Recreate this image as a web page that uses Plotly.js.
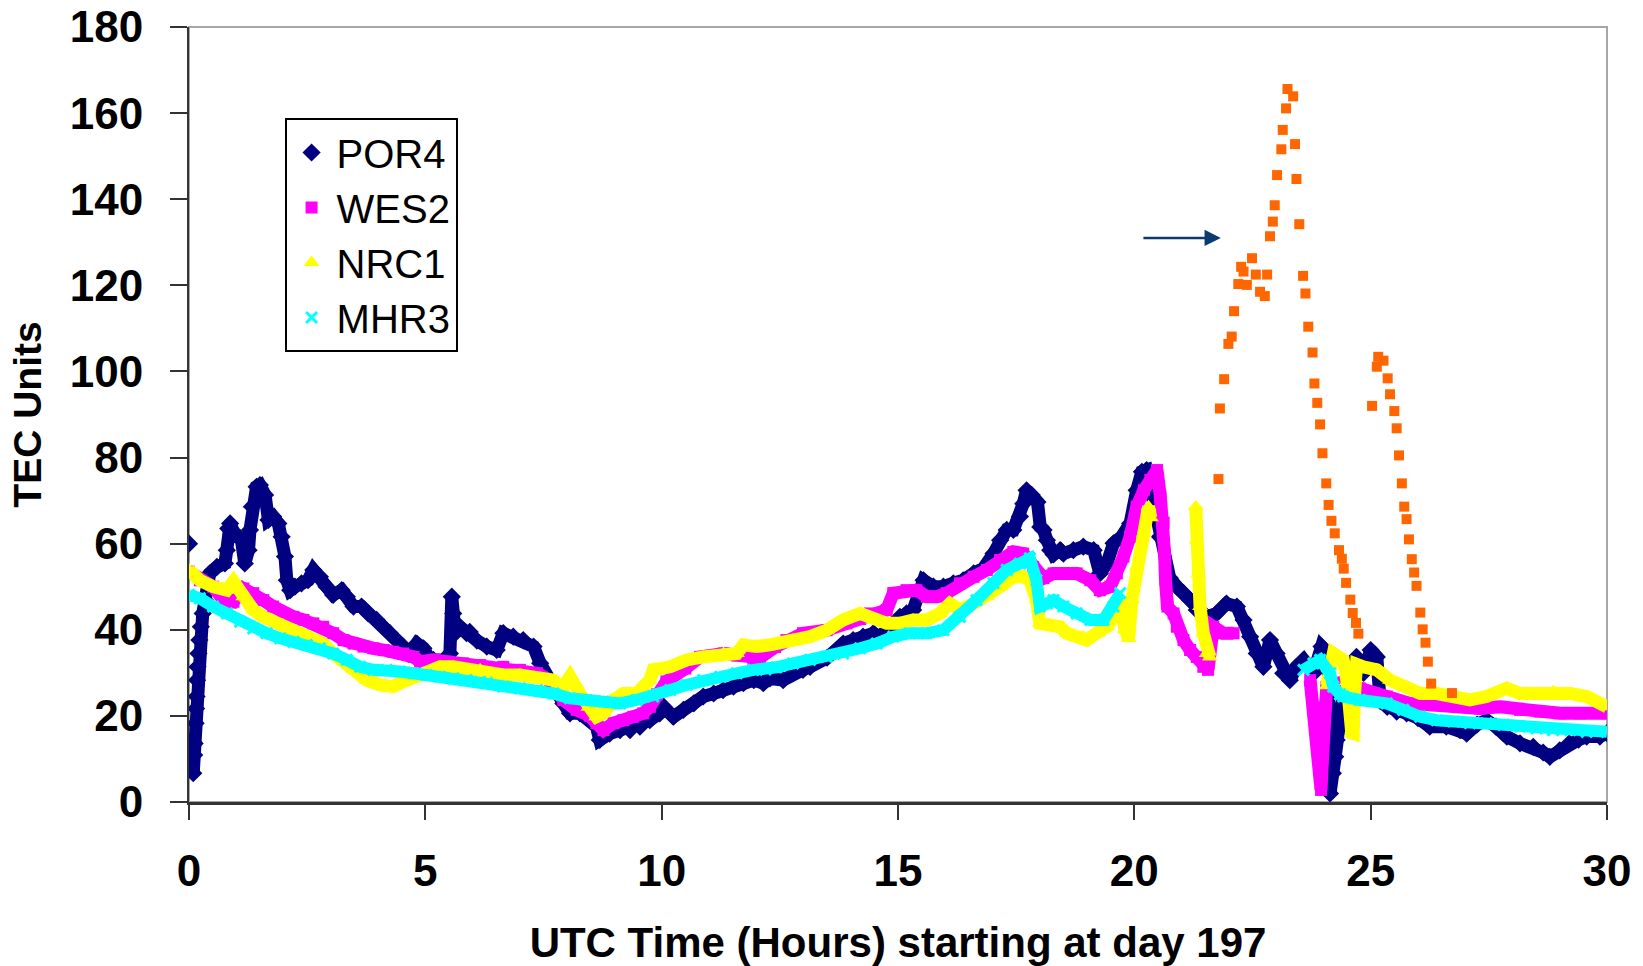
<!DOCTYPE html>
<html>
<head>
<meta charset="utf-8">
<script src="https://cdn.plot.ly/plotly-3.0.1.min.js"></script>
<style>html,body{margin:0;padding:0;background:#fff;}#chart{width:1643px;height:966px;}</style>
</head>
<body>
<div id="chart"></div>
<script>
// ---- Data (UTC hours from day 197, TEC units) ----
const por4X = [0, null, 0.09,0.11,0.12,0.14,0.15,0.16,0.17,0.18,0.20,0.22,0.25,0.29,0.34,0.44,0.59,0.76,0.80,0.83,0.87,0.94,1.04,1.11,1.18,1.26,1.29,1.33,1.43,1.50,1.61,1.68,1.78,1.89,1.96,2.03,2.07,2.14,2.24,2.38,2.52,2.63,2.77,2.91,3.05,3.23,3.34,3.48,3.65,3.79,3.97,4.11,4.25,4.39,4.53,4.68,4.82,4.96,5.06,5.17,5.45,5.52,5.56,5.59,5.63,5.73,5.87,5.94,6.09,6.30,6.51,6.65,6.86,7.07,7.29,7.43,7.57,7.71,7.92,8.06,8.27,8.62,8.69,8.90,9.12,9.33,9.54,9.75,9.96,10.04,10.25,10.46,10.68,10.88,11.10,11.30,11.52,11.73,11.95,12.15,12.29,12.57,12.78,12.99,13.14,13.50,13.84,14.05,14.26,14.48,14.62,14.85,15.04,15.18,15.32,15.45,15.54,15.75,15.96,16.17,16.38,16.60,16.81,17.02,17.16,17.30,17.44,17.58,17.65,17.72,17.83,17.95,18.01,18.08,18.15,18.22,18.29,18.43,18.50,18.71,18.92,19.14,19.27,19.42,19.56,19.73,19.91,20.05,20.16,20.26,20.35,20.54,20.75,20.90,21.04,21.18,21.32,21.53,21.74,21.95,22.17,22.31,22.45,22.59,22.73,22.87,23.01,23.15,23.29,23.43,23.58,23.79,23.96,24.10,24.14,24.20,24.25,24.28,24.32,24.36,24.42,24.60,24.70,24.85,25.00,25.13,25.20,25.35,25.55,25.76,26.00,26.25,26.60,26.89,27.03,27.25,27.45,27.65,27.88,28.16,28.44,28.65,28.79,29.00,29.20,29.40,29.57,29.85,30.00];
const por4Y = [60, null, 6.7,10.9,13.6,18.3,21.7,24.5,28.3,31.4,34.5,37.6,40.7,43.8,46.9,53.1,54.6,55.4,58.5,63.5,64.7,62.8,61.6,60.8,55.4,58.5,63.2,68.6,73.2,73.6,71.3,65.5,66.3,64.7,61.6,57.0,51.5,49.2,50.0,50.8,51.5,53.9,52.3,50.0,48.1,49.2,47.7,45.4,45.4,43.8,42.3,40.7,39.2,37.6,36.1,34.5,36.8,35.7,33.7,33.0,33.0,34.5,47.7,43.8,39.2,40.7,39.2,39.5,37.5,36.1,35.3,39.2,38.4,37.6,36.1,32.2,29.1,26.0,22.9,20.6,20.6,17.5,14.4,15.9,16.7,16.7,17.5,19.0,20.6,22.1,19.8,21.4,22.9,24.5,25.2,26.0,26.8,27.6,28.3,27.6,28.7,28.3,29.9,30.7,31.4,33.5,36.8,37.6,38.4,39.2,38.4,41.0,43.0,43.8,44.6,48.0,51.5,50.0,50.0,50.8,51.5,53.1,54.3,57.7,60.8,63.2,63.2,66.3,69.3,72.4,71.3,69.7,63.9,63.2,60.8,58.5,57.5,58.5,57.7,58.5,59.3,58.5,53.1,55.4,60.1,61.6,64.7,72.4,76.7,77.1,72.0,61.6,52.0,50.0,48.5,46.9,44.6,43.0,43.8,46.1,45.4,42.3,38.4,34.5,31.4,37.6,34.5,29.9,28.3,31.4,33.0,29.9,36.1,34.5,2.0,6.7,10.5,14.4,18.3,22.1,25.2,30.0,33.7,30.0,35.3,33.7,23.5,22.1,21.0,20.6,19.5,17.5,17.5,16.7,15.9,18.0,19.0,17.5,15.2,13.6,12.8,11.5,10.5,12.0,13.6,14.5,15.2,15.2,16.0];

const wes2X = [0,0.23,0.51,0.73,0.94,1.15,1.36,1.57,1.78,1.99,2.21,2.42,2.63,2.84,3.05,3.27,3.48,3.69,3.90,4.12,4.32,4.53,4.75,4.89,5.17,5.45,5.80,6.16,6.30,6.65,7.00,7.36,7.64,7.92,8.20,8.48,8.62,8.77,8.98,9.19,9.40,9.61,9.75,9.90,10.10,10.50,10.81,11.31,11.60,11.94,12.08,12.40,12.64,12.99,13.49,13.91,14.20,14.41,14.76,14.90,15.18,15.39,15.61,15.82,16.03,16.31,16.60,16.88,17.16,17.44,17.65,17.86,18.08,18.29,18.50,18.78,19.07,19.27,19.49,19.63,19.77,19.91,20.05,20.20,20.34,20.48,20.55,20.62,20.64,20.66,20.70,20.83,20.90,21.04,21.18,21.32,21.46,21.56,21.67,21.88,22.10,null,23.72,23.95,23.98,24.00,24.03,24.07,24.30,24.49,24.77,25.06,25.34,25.83,26.32,26.89,27.31,27.74,28.16,28.58,29.01,29.43,29.99];
const wes2Y = [53.5,51.5,50.0,46.9,46.5,49.6,48.5,46.9,45.4,43.8,43.0,42.3,41.5,40.7,39.2,37.6,36.8,36.1,35.7,35.3,34.9,34.5,33.7,32.6,33.0,32.6,32.2,31.8,31.4,31.4,30.7,29.9,28.3,23.7,21.4,20.0,18.3,16.7,18.3,19.0,19.8,20.6,22.1,25.0,28.0,31.0,33.7,34.5,34.0,33.0,33.5,36.0,37.6,39.2,39.9,41.5,42.5,43.8,44.6,48.5,49.2,49.2,47.7,47.7,48.5,50.8,52.3,53.9,56.2,58.1,57.7,54.6,52.0,53.1,53.1,53.1,51.5,49.2,50.0,53.1,57.0,61.6,68.6,72.4,74.8,77.1,71.0,64.9,57.7,51.5,45.4,43.8,40.7,37.6,35.3,33.7,31.4,30.7,40.7,39.2,39.2,null,28.3,2.8,10.0,16.0,22.0,26.8,27.5,28.3,26.4,25.2,24.5,22.9,22.5,22.1,21.7,22.1,21.4,21.0,20.6,20.6,20.6];

const nrc1X = [0,0.23,0.51,0.80,0.94,1.15,1.36,1.57,1.78,1.99,2.21,2.42,2.63,2.84,3.05,3.27,3.48,3.76,4.04,4.32,4.46,4.75,5.03,5.31,5.59,5.87,6.16,6.30,6.65,7.00,7.36,7.71,7.90,8.06,8.27,8.45,8.62,8.77,8.98,9.19,9.47,9.75,9.82,10.18,10.53,10.88,11.31,11.59,11.73,12.00,12.29,12.43,12.78,13.14,13.49,13.84,14.20,14.48,14.76,15.04,15.32,15.61,15.89,16.10,16.31,16.60,16.88,17.16,17.44,17.65,17.79,17.93,18.00,18.22,18.43,18.57,18.92,18.99,19.20,19.42,19.56,19.70,19.80,19.88,19.95,20.05,20.20,20.30,20.35,null,21.30,21.32,21.35,21.39,21.46,21.53,21.60,null,24.07,24.21,24.42,24.50,24.60,24.63,24.66,24.70,24.84,25.13,25.41,25.76,26.05,26.40,26.75,27.10,27.45,27.88,28.16,28.51,28.86,29.22,29.57,30.00];
const nrc1Y = [53.9,51.5,50.0,49.2,51.2,47.7,44.6,43.0,41.9,41.1,39.9,38.4,37.6,36.8,34.5,32.6,30.7,28.3,27.2,26.8,27.6,29.1,29.9,31.4,31.4,30.7,30.7,29.9,29.5,29.5,28.7,28.3,26.5,29.1,25.2,22.0,19.8,20.6,23.7,25.2,25.2,28.3,30.7,31.4,33.0,33.7,34.5,34.5,36.5,36.1,36.5,36.8,37.6,38.4,39.9,42.3,43.8,42.3,41.5,41.5,42.3,42.3,43.8,46.1,44.6,46.1,47.7,50.0,52.3,52.3,51.5,46.9,41.5,40.7,40.7,39.2,38.4,37.6,39.2,40.7,43.0,47.0,40.0,38.0,47.0,54.6,62.4,68.6,66.0,null,68.6,60.8,53.1,45.4,39.2,34.5,33.7,null,27.0,34.5,33.0,28.0,16.0,15.9,25.0,32.0,31.4,30.7,28.3,26.8,25.2,25.2,24.5,23.7,24.5,26.4,25.2,25.2,25.6,25.2,24.5,22.1];

const mhr3X = [0,0.23,0.51,0.80,1.08,1.36,1.64,1.93,2.21,2.49,2.77,3.05,3.34,3.62,3.90,4.18,4.46,4.75,5.03,5.31,5.59,5.87,6.16,6.30,6.65,7.00,7.36,7.71,8.06,8.41,8.77,9.12,9.47,9.82,10.18,10.53,10.88,11.24,11.59,11.94,12.20,12.43,12.78,13.14,13.49,13.84,14.20,14.55,14.90,15.25,15.61,15.96,16.31,16.66,17.02,17.30,17.58,17.79,17.93,18.00,18.15,18.29,18.50,18.78,19.07,19.35,19.56,19.70,null,23.58,23.79,23.93,24.14,24.21,24.35,24.42,24.77,25.34,25.69,26.05,26.40,26.75,27.10,27.45,27.81,28.16,28.51,28.86,29.22,29.57,30.00];
const mhr3Y = [48.1,47.3,45.4,43.8,41.9,40.3,39.2,38.0,37.2,36.5,35.7,34.5,33.0,31.4,30.7,30.7,30.3,29.9,29.5,29.1,28.7,28.3,27.9,27.6,26.8,26.4,26.0,25.2,24.1,23.7,23.3,22.9,23.7,24.5,26.0,27.2,28.3,29.1,29.9,30.7,30.8,31.3,32.2,33.0,33.7,34.5,35.7,36.8,38.4,39.2,39.2,39.9,43.0,46.9,50.8,53.9,55.4,56.6,51.5,45.4,46.1,46.9,45.4,43.8,42.3,42.3,45.4,48.5,null,30.7,32.2,33.0,29.9,26.8,25.0,24.5,23.7,22.9,21.4,19.8,19.0,18.7,18.3,18.3,17.9,17.5,17.1,16.7,16.7,16.3,16.3];

// unlabelled orange series (highlighted by the arrow)
const orangeX = [21.78,21.81,21.90,21.99,22.06,22.11,22.20,22.26,22.31,22.38,22.49,22.57,22.66,22.76,22.81,22.87,22.93,22.97,23.02,23.11,23.14,23.21,23.24,23.36,23.40,23.43,23.49,23.57,23.62,23.68,23.77,23.81,23.87,23.93,23.98,24.06,24.11,24.17,24.24,24.33,24.39,24.43,24.48,24.57,24.62,24.69,24.74,25.03,25.13,25.16,25.27,25.36,25.41,25.50,25.55,25.60,25.66,25.71,25.76,25.81,25.87,25.92,25.97,26.05,26.10,26.16,26.21,26.28,26.72];
const orangeY = [75.0,91.4,98.2,106.4,108.1,114.0,120.3,124.3,123.2,120.1,126.3,122.5,118.5,117.5,122.5,131.4,134.8,138.6,145.6,151.6,156.1,161.1,165.6,163.9,152.8,144.7,134.2,122.2,118.1,110.4,104.4,97.2,92.7,87.7,81.0,74.0,69.0,65.3,62.4,58.5,56.5,54.2,50.9,47.0,43.9,41.6,39.1,92.0,101.1,103.4,102.5,98.4,94.7,90.8,86.8,80.5,74.0,68.6,65.7,61.0,56.4,53.3,50.2,44.0,40.1,37.0,32.6,27.5,25.3];

const seriesNames = ['POR4','WES2','NRC1','MHR3'];
const seriesColors = ['#000080','#FF00FF','#FFFF00','#00FFFF'];
const arrowFromX = 20.16, arrowToX = 21.83, arrowY = 131;

// ---- Traces ----
const xs = [por4X, wes2X, nrc1X, mhr3X];
const ys = [por4Y, wes2Y, nrc1Y, mhr3Y];
const symbols = ['diamond','square','triangle-up','x-thin'];
const msizes = [14, 12, 14, 11];
const lwidths = [13, 13, 13, 12];
const traces = [];
for (let i = 0; i < 4; i++) {
  traces.push({
    x: xs[i], y: ys[i], type: 'scatter', mode: 'lines',
    line: {color: seriesColors[i], width: lwidths[i]},
    connectgaps: false, showlegend: false, hoverinfo: 'skip'
  });
  const mk = {symbol: symbols[i], size: msizes[i], color: seriesColors[i]};
  if (symbols[i] === 'x-thin') mk.line = {color: seriesColors[i], width: 3};
  traces.push({
    x: xs[i], y: ys[i], type: 'scatter', mode: 'markers', name: seriesNames[i],
    marker: mk
  });
}
traces.push({
  x: orangeX, y: orangeY, type: 'scatter', mode: 'markers', showlegend: false,
  marker: {symbol: 'square', size: 10, color: '#FF6600'}
});

const fam = 'Liberation Sans, Arial, sans-serif';
const layout = {
  width: 1643, height: 966,
  margin: {l: 189, r: 36, t: 27, b: 164},
  paper_bgcolor: '#ffffff', plot_bgcolor: '#ffffff',
  font: {family: fam, color: '#000'},
  xaxis: {
    range: [0, 30], tick0: 0, dtick: 5, ticks: 'outside', ticklen: 15, tickwidth: 2, tickcolor: '#333',
    showline: true, linecolor: '#333', linewidth: 3, showgrid: false, zeroline: false,
    tickfont: {family: fam, size: 44, weight: 'bold', color: '#000'}, ticklabelstandoff: 13,
    title: {text: 'UTC Time (Hours) starting at day 197', font: {family: fam, size: 42, weight: 'bold', color: '#000'}, standoff: 36},
    automargin: false
  },
  yaxis: {
    range: [0, 180], tick0: 0, dtick: 20, ticks: 'outside', ticklen: 17, tickwidth: 2, tickcolor: '#333',
    showline: true, linecolor: '#333', linewidth: 2, showgrid: false, zeroline: false,
    tickfont: {family: fam, size: 44, weight: 'bold', color: '#000'}, ticklabelstandoff: 18,
    title: {text: 'TEC Units', font: {family: fam, size: 39, weight: 'bold', color: '#000'}, standoff: 16},
    automargin: false
  },
  legend: {
    x: 0.0674, y: 0.8826, xanchor: 'left', yanchor: 'top',
    bgcolor: '#ffffff', bordercolor: '#000', borderwidth: 2,
    font: {family: fam, size: 40, color: '#000'}, itemwidth: 40, itemsizing: 'trace'
  },
  shapes: [{type: 'rect', xref: 'paper', yref: 'paper', x0: 0, x1: 1, y0: 0, y1: 1,
            line: {color: '#a6a6a6', width: 2}, layer: 'below'}],
  annotations: [{
    x: arrowToX, y: arrowY, ax: arrowFromX, ay: arrowY, axref: 'x', ayref: 'y', xref: 'x', yref: 'y',
    text: '', showarrow: true, arrowhead: 2, arrowsize: 1.3, arrowwidth: 2.5, arrowcolor: '#0b3a6e', standoff: 0
  }]
};
Plotly.newPlot('chart', traces, layout, {displayModeBar: false, staticPlot: true});
</script>
</body>
</html>
